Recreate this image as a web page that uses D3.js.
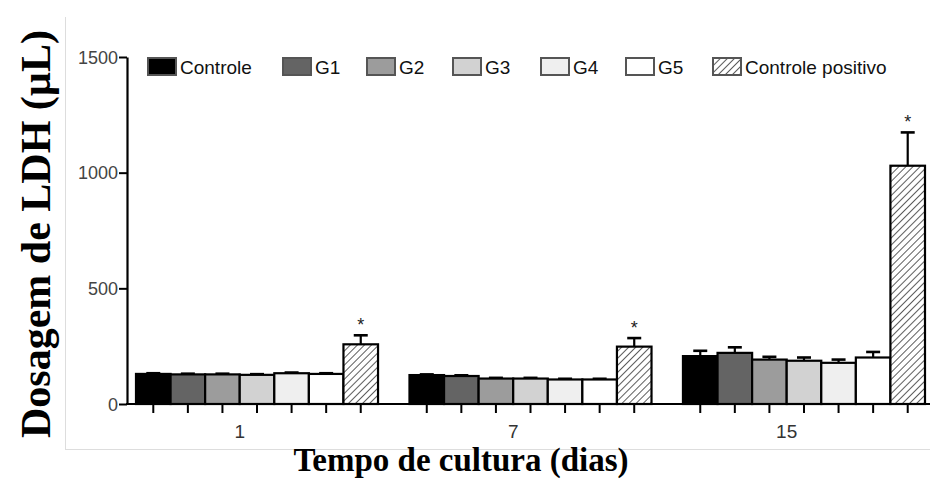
<!DOCTYPE html>
<html>
<head>
<meta charset="utf-8">
<script src="https://cdn.jsdelivr.net/npm/d3@7"></script>
<style>
  body { margin: 0; background: #fff; }
</style>
</head>
<body>
<div class="chart"></div>
<script>
/* ======== Data ============= */
var days = ["1", "7", "15"];
var series = ["Controle", "G1", "G2", "G3", "G4", "G5", "Controle positivo"];
var day1 = [130, 128, 128, 126, 133, 130, 258];
var err1 = [3, 3, 3, 3, 3, 3, 39];
var day7 = [125, 121, 110, 110, 106, 106, 248];
var err7 = [3, 3, 3, 3, 3, 3, 37];
var day15 = [207, 221, 192, 187, 178, 201, 1030];
var err15 = [23, 24, 12, 14, 14, 24, 144];
var stars = ["*", "*", "*"];
var yTicks = [0, 500, 1000, 1500];
/* ======== Data ============= */

var values = [day1, day7, day15];
var errors = [err1, err7, err15];

var width = 930, height = 479;
var fills = ["#000000", "#646464", "#9c9c9c", "#d2d2d2", "#efefef", "#ffffff", "url(#hatch)"];
var sansFont = "'Liberation Sans', Arial, Helvetica, sans-serif";
var serifFont = "'Liberation Serif', 'Times New Roman', serif";

var svg = d3.select('.chart')
    .append('svg')
    .attr('width', width)
    .attr('height', height);

var defs = svg.append('defs');
var pattern = defs.append('pattern')
    .attr('id', 'hatch')
    .attr('patternUnits', 'userSpaceOnUse')
    .attr('width', 5)
    .attr('height', 5)
    .attr('patternTransform', 'rotate(45)');
pattern.append('rect').attr('width', 5).attr('height', 5).attr('fill', '#fff');
pattern.append('line')
    .attr('x1', 0).attr('y1', 0).attr('x2', 0).attr('y2', 5)
    .attr('stroke', '#333').attr('stroke-width', 1.6);

// thin grey frame from the original figure
svg.append('line')
    .attr('x1', 65.5).attr('x2', 65.5).attr('y1', 17).attr('y2', 450)
    .attr('stroke', '#ddd').attr('stroke-width', 1);
svg.append('line')
    .attr('x1', 65).attr('x2', width).attr('y1', 449.5).attr('y2', 449.5)
    .attr('stroke', '#ddd').attr('stroke-width', 1);

var axisX = 127;
var y = d3.scaleLinear().domain([0, 1500]).range([404, 57]);
var x0 = d3.scaleBand().domain(days).range([136, 925]).paddingInner(0.115).paddingOuter(0);
var x1 = d3.scaleBand().domain(series).range([0, x0.bandwidth()]);

// bars
var groups = svg.selectAll('g.day')
    .data(days)
    .enter().append('g')
    .attr('class', 'day')
    .attr('transform', function(d){ return 'translate(' + x0(d) + ',0)'; });

groups.each(function(day, i){
    var g = d3.select(this);
    series.forEach(function(s, j){
        var v = values[i][j], e = errors[i][j];
        var cx = x1(s) + x1.bandwidth()/2;
        // error bar
        g.append('line')
            .attr('x1', cx).attr('x2', cx)
            .attr('y1', y(v)).attr('y2', y(v + e))
            .attr('stroke', '#000').attr('stroke-width', 2.2);
        g.append('line')
            .attr('x1', cx - 7).attr('x2', cx + 7)
            .attr('y1', y(v + e)).attr('y2', y(v + e))
            .attr('stroke', '#000').attr('stroke-width', 2.6);
        g.append('rect')
            .attr('x', x1(s))
            .attr('y', y(v))
            .attr('width', x1.bandwidth())
            .attr('height', y(0) - y(v))
            .attr('fill', fills[j])
            .attr('stroke', '#000')
            .attr('stroke-width', 2.2);
        // ticks under each bar
        g.append('line')
            .attr('x1', cx).attr('x2', cx)
            .attr('y1', y(0)).attr('y2', y(0) + 9)
            .attr('stroke', '#000').attr('stroke-width', 2);
        if(j == series.length - 1){
            g.append('text')
                .attr('x', cx)
                .attr('y', y(v + e) - 4)
                .attr('text-anchor', 'middle')
                .attr('font-size', 18)
                .attr('font-family', sansFont)
                .attr('fill', '#222')
                .text(stars[i]);
        }
    });
    // day label, centred over the six treatment bars
    var first = x1(series[0]), last = x1(series[5]) + x1.bandwidth();
    g.append('text')
        .attr('x', (first + last)/2)
        .attr('y', 438)
        .attr('text-anchor', 'middle')
        .attr('font-size', 19)
        .attr('font-family', sansFont)
        .attr('fill', '#333')
        .text(day);
});

// x axis line
svg.append('line')
    .attr('x1', axisX - 1).attr('x2', width)
    .attr('y1', y(0)).attr('y2', y(0))
    .attr('stroke', '#000').attr('stroke-width', 2);

// y axis
var yAxis = svg.append('g')
    .attr('transform', 'translate(' + axisX + ',0)')
    .call(d3.axisLeft(y).tickValues(yTicks).tickFormat(d3.format('d')).tickSize(8).tickSizeOuter(0));
yAxis.select('.domain').attr('stroke', '#000').attr('stroke-width', 2.2);
yAxis.selectAll('.tick line').attr('stroke', '#000').attr('stroke-width', 2);
yAxis.selectAll('.tick text')
    .attr('font-size', 18)
    .attr('font-family', sansFont)
    .attr('fill', '#444')
    .attr('x', -9)
    .attr('dy', '0.35em');

// legend
var legendX = [148, 283, 367, 453, 541, 626, 713];
var legend = svg.selectAll('g.legend')
    .data(series)
    .enter().append('g')
    .attr('class', 'legend')
    .attr('transform', function(d, i){ return 'translate(' + legendX[i] + ',58)'; });
legend.append('rect')
    .attr('width', 28)
    .attr('height', 17)
    .attr('fill', function(d, i){ return fills[i]; })
    .attr('stroke', '#555')
    .attr('stroke-width', 2);
legend.append('text')
    .attr('x', 32)
    .attr('y', 16)
    .attr('font-size', 19)
    .attr('font-family', sansFont)
    .attr('fill', '#111')
    .text(function(d){ return d; });

// axis titles
svg.append('text')
    .attr('transform', 'translate(50,234) rotate(-90)')
    .attr('text-anchor', 'middle')
    .attr('font-size', 42)
    .attr('font-weight', 'bold')
    .attr('font-family', serifFont)
    .attr('fill', '#000')
    .text('Dosagem de LDH (µL)');
svg.append('text')
    .attr('x', 461)
    .attr('y', 471)
    .attr('text-anchor', 'middle')
    .attr('font-size', 33)
    .attr('font-weight', 'bold')
    .attr('font-family', serifFont)
    .attr('fill', '#000')
    .text('Tempo de cultura (dias)');
</script>
</body>
</html>
